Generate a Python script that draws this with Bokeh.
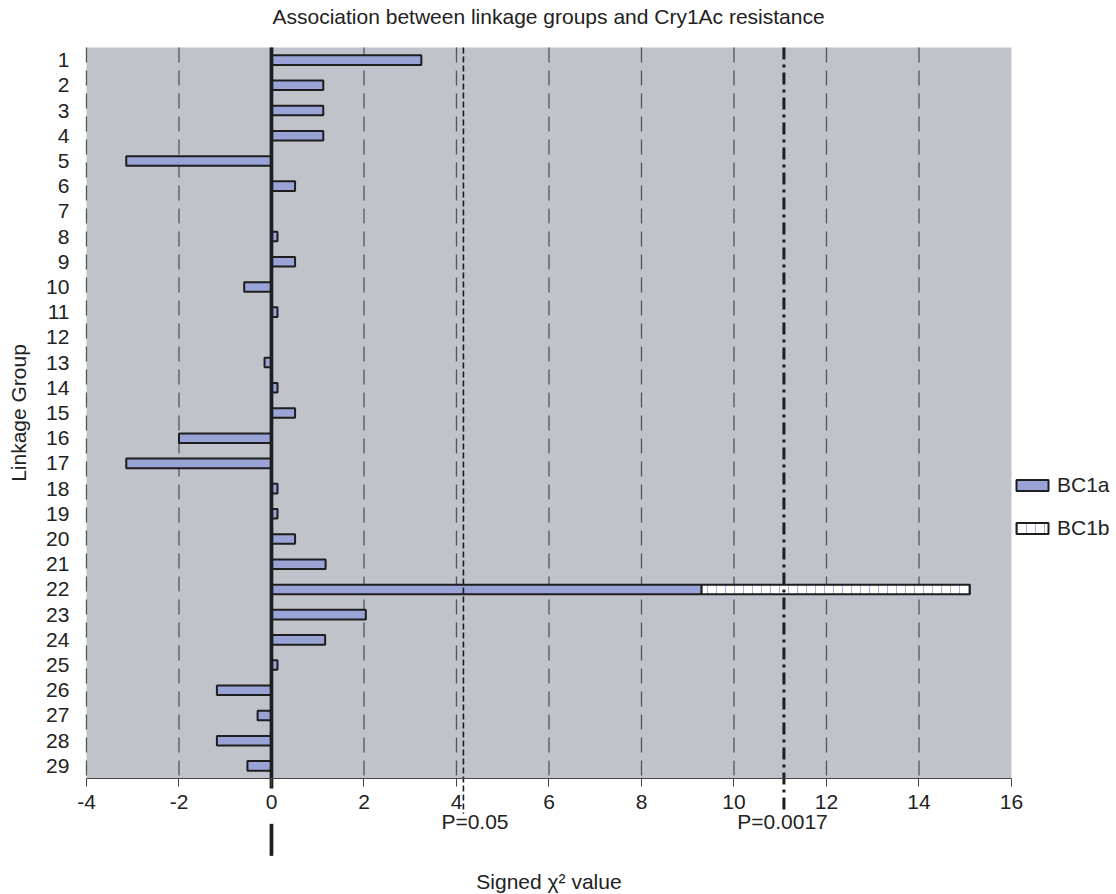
import math
from bokeh.plotting import figure
from bokeh.models import (Range1d, FixedTicker, Label, Legend, LegendItem,
                          ColumnDataSource)
from bokeh.embed import file_html
from bokeh.resources import INLINE

# ---- data -------------------------------------------------------------
groups = [1, 2, 3, 4, 5, 6, 7, 8, 9, 10, 11, 12, 13, 14, 15,
          16, 17, 18, 19, 20, 21, 22, 23, 24, 25, 26, 27, 28, 29]
bc1a = [3.24, 1.12, 1.12, 1.12, -3.14, 0.51, 0.0, 0.13, 0.51, -0.59,
        0.13, 0.0, -0.15, 0.13, 0.51, -2.0, -3.14, 0.13, 0.13, 0.51,
        1.17, 9.30, 2.04, 1.16, 0.13, -1.18, -0.30, -1.18, -0.52]
bc1b = [0.0, 0.0, 0.0, 0.0, 0.0, 0.0, 0.0, 0.0, 0.0, 0.0,
        0.0, 0.0, 0.0, 0.0, 0.0, 0.0, 0.0, 0.0, 0.0, 0.0,
        0.0, 5.80, 0.0, 0.0, 0.0, 0.0, 0.0, 0.0, 0.0]
x_ticks = [-4, -2, 0, 2, 4, 6, 8, 10, 12, 14, 16]
x_tick_labels = ["-4", "-2", "0", "2", "4", "6", "8", "10", "12", "14", "16"]
threshold_labels = ["P=0.05", "P=0.0017"]
threshold_values = [4.15, 11.08]

FONT = "Liberation Sans"
TXT = "#222222"
FS = "21px"

X_LO, X_HI = x_ticks[0], x_ticks[-1]
Y_TOP, Y_BOT = groups[0] - 0.5, groups[-1] + 0.5   # plot-area extent (rows)

# ---- sources ------------------------------------------------------------
a_rows = [(g, v) for g, v in zip(groups, bc1a) if v != 0]
src_a = ColumnDataSource(dict(y=[r[0] for r in a_rows],
                              left=[min(0, r[1]) for r in a_rows],
                              right=[max(0, r[1]) for r in a_rows]))
b_rows = [(g, a, b) for g, a, b in zip(groups, bc1a, bc1b) if b != 0]
src_b = ColumnDataSource(dict(y=[r[0] for r in b_rows],
                              left=[r[1] for r in b_rows],
                              right=[r[1] + r[2] for r in b_rows]))

# The frame spans the whole canvas below the title; the grey plot area is
# drawn as a quad and both axes are pinned to its edges, so the marks and
# labels outside the plot area are not clipped.
p = figure(frame_width=1110, frame_height=860,
           min_border_left=0, min_border_right=0, min_border_top=0,
           min_border_bottom=0,
           x_range=Range1d(-5.859, 18.141), y_range=Range1d(34.063, -0.055),
           output_backend="svg", toolbar_location=None,
           title="Association between linkage groups and Cry1Ac resistance")

p.background_fill_color = "white"
p.border_fill_color = "white"
p.outline_line_color = None
p.xgrid.grid_line_color = None
p.ygrid.grid_line_color = None

p.title.align = "left"
p.title.offset = 272
p.title.vertical_align = "top"
p.title.text_font = FONT
p.title.text_font_size = FS
p.title.text_font_style = "normal"
p.title.text_color = TXT
p.title.standoff = 8

# grey plot area
p.quad(left=[X_LO], right=[X_HI], top=[Y_TOP], bottom=[Y_BOT],
       fill_color="#c1c3cb", line_color=None)

# dashed vertical grid lines
p.segment(x0=x_ticks[:-1], x1=x_ticks[:-1], y0=Y_TOP, y1=Y_BOT,
          line_color="#555555", line_dash="15 8", line_width=1.3)

# x axis pinned at the bottom of the plot area
xa = p.xaxis[0]
xa.fixed_location = Y_BOT
xa.bounds = (X_LO, X_HI)
xa.ticker = FixedTicker(ticks=x_ticks)
xa.major_label_overrides = {t: s for t, s in zip(x_ticks, x_tick_labels)}
xa.major_label_text_font = FONT
xa.major_label_text_font_size = FS
xa.major_label_text_color = TXT
xa.major_label_standoff = 9
xa.major_tick_out = 8
xa.major_tick_in = 0
xa.minor_tick_out = 0
xa.minor_tick_in = 0
xa.axis_line_color = "#444444"
xa.major_tick_line_color = "#444444"

# y axis pinned at the left edge of the plot area
ya = p.yaxis[0]
ya.fixed_location = X_LO
ya.bounds = (Y_TOP, Y_BOT)
ya.ticker = FixedTicker(ticks=groups)
ya.major_label_text_font = FONT
ya.major_label_text_font_size = FS
ya.major_label_text_color = TXT
ya.major_label_standoff = 17
ya.major_tick_out = 0
ya.major_tick_in = 0
ya.minor_tick_out = 0
ya.minor_tick_in = 0
ya.axis_line_color = None

# axis titles
p.add_layout(Label(x=(X_LO + X_HI) / 2, y=33.586, text="Signed χ² value",
                   text_align="center", text_baseline="middle",
                   text_font=FONT, text_font_size=FS, text_color=TXT))
p.add_layout(Label(x=-5.46, y=(Y_TOP + Y_BOT) / 2, text="Linkage Group",
                   angle=math.pi / 2, text_align="center",
                   text_baseline="middle", text_font=FONT,
                   text_font_size=FS, text_color=TXT))

# bars
r_a = p.hbar(y="y", left="left", right="right", height=0.38, source=src_a,
             fill_color="#9aa3d5", line_color="#1e1e1e", line_width=2)
r_b = p.hbar(y="y", left="left", right="right", height=0.38, source=src_b,
             fill_color="white", line_color="#1e1e1e", line_width=2,
             hatch_pattern="vertical_line", hatch_color="#aab3dd",
             hatch_scale=9, hatch_weight=1)

# zero line (also continues below the axis, under the "0" label)
p.segment(x0=[0, 0], x1=[0, 0], y0=[Y_TOP, 31.3], y1=[29.9, 32.57],
          line_color="#1e1e1e", line_width=3.7)

# significance thresholds
styles = [dict(line_dash="6 3", line_width=1.6), dict(line_dash="12 5 3 5", line_width=3)]
label_x = [4.4, 11.05]
for val, lab, st, lx in zip(threshold_values, threshold_labels, styles, label_x):
    p.segment(x0=[val], x1=[val], y0=[Y_TOP], y1=[30.9], line_color="#1e1e1e", **st)
    p.add_layout(Label(x=lx, y=31.22, text=lab, text_align="center",
                       text_baseline="middle", text_font=FONT,
                       text_font_size=FS, text_color=TXT))

# legend
legend = Legend(items=[LegendItem(label="BC1a", renderers=[r_a]),
                       LegendItem(label="BC1b", renderers=[r_b])],
                location=(1012, 353), orientation="vertical",
                glyph_width=40, glyph_height=14, label_height=23,
                spacing=19, padding=0, margin=0, label_standoff=5,
                label_text_font=FONT, label_text_font_size=FS,
                label_text_color=TXT,
                border_line_color=None, background_fill_alpha=0)
p.add_layout(legend)

open("out.html", "w").write(file_html(p, INLINE))
